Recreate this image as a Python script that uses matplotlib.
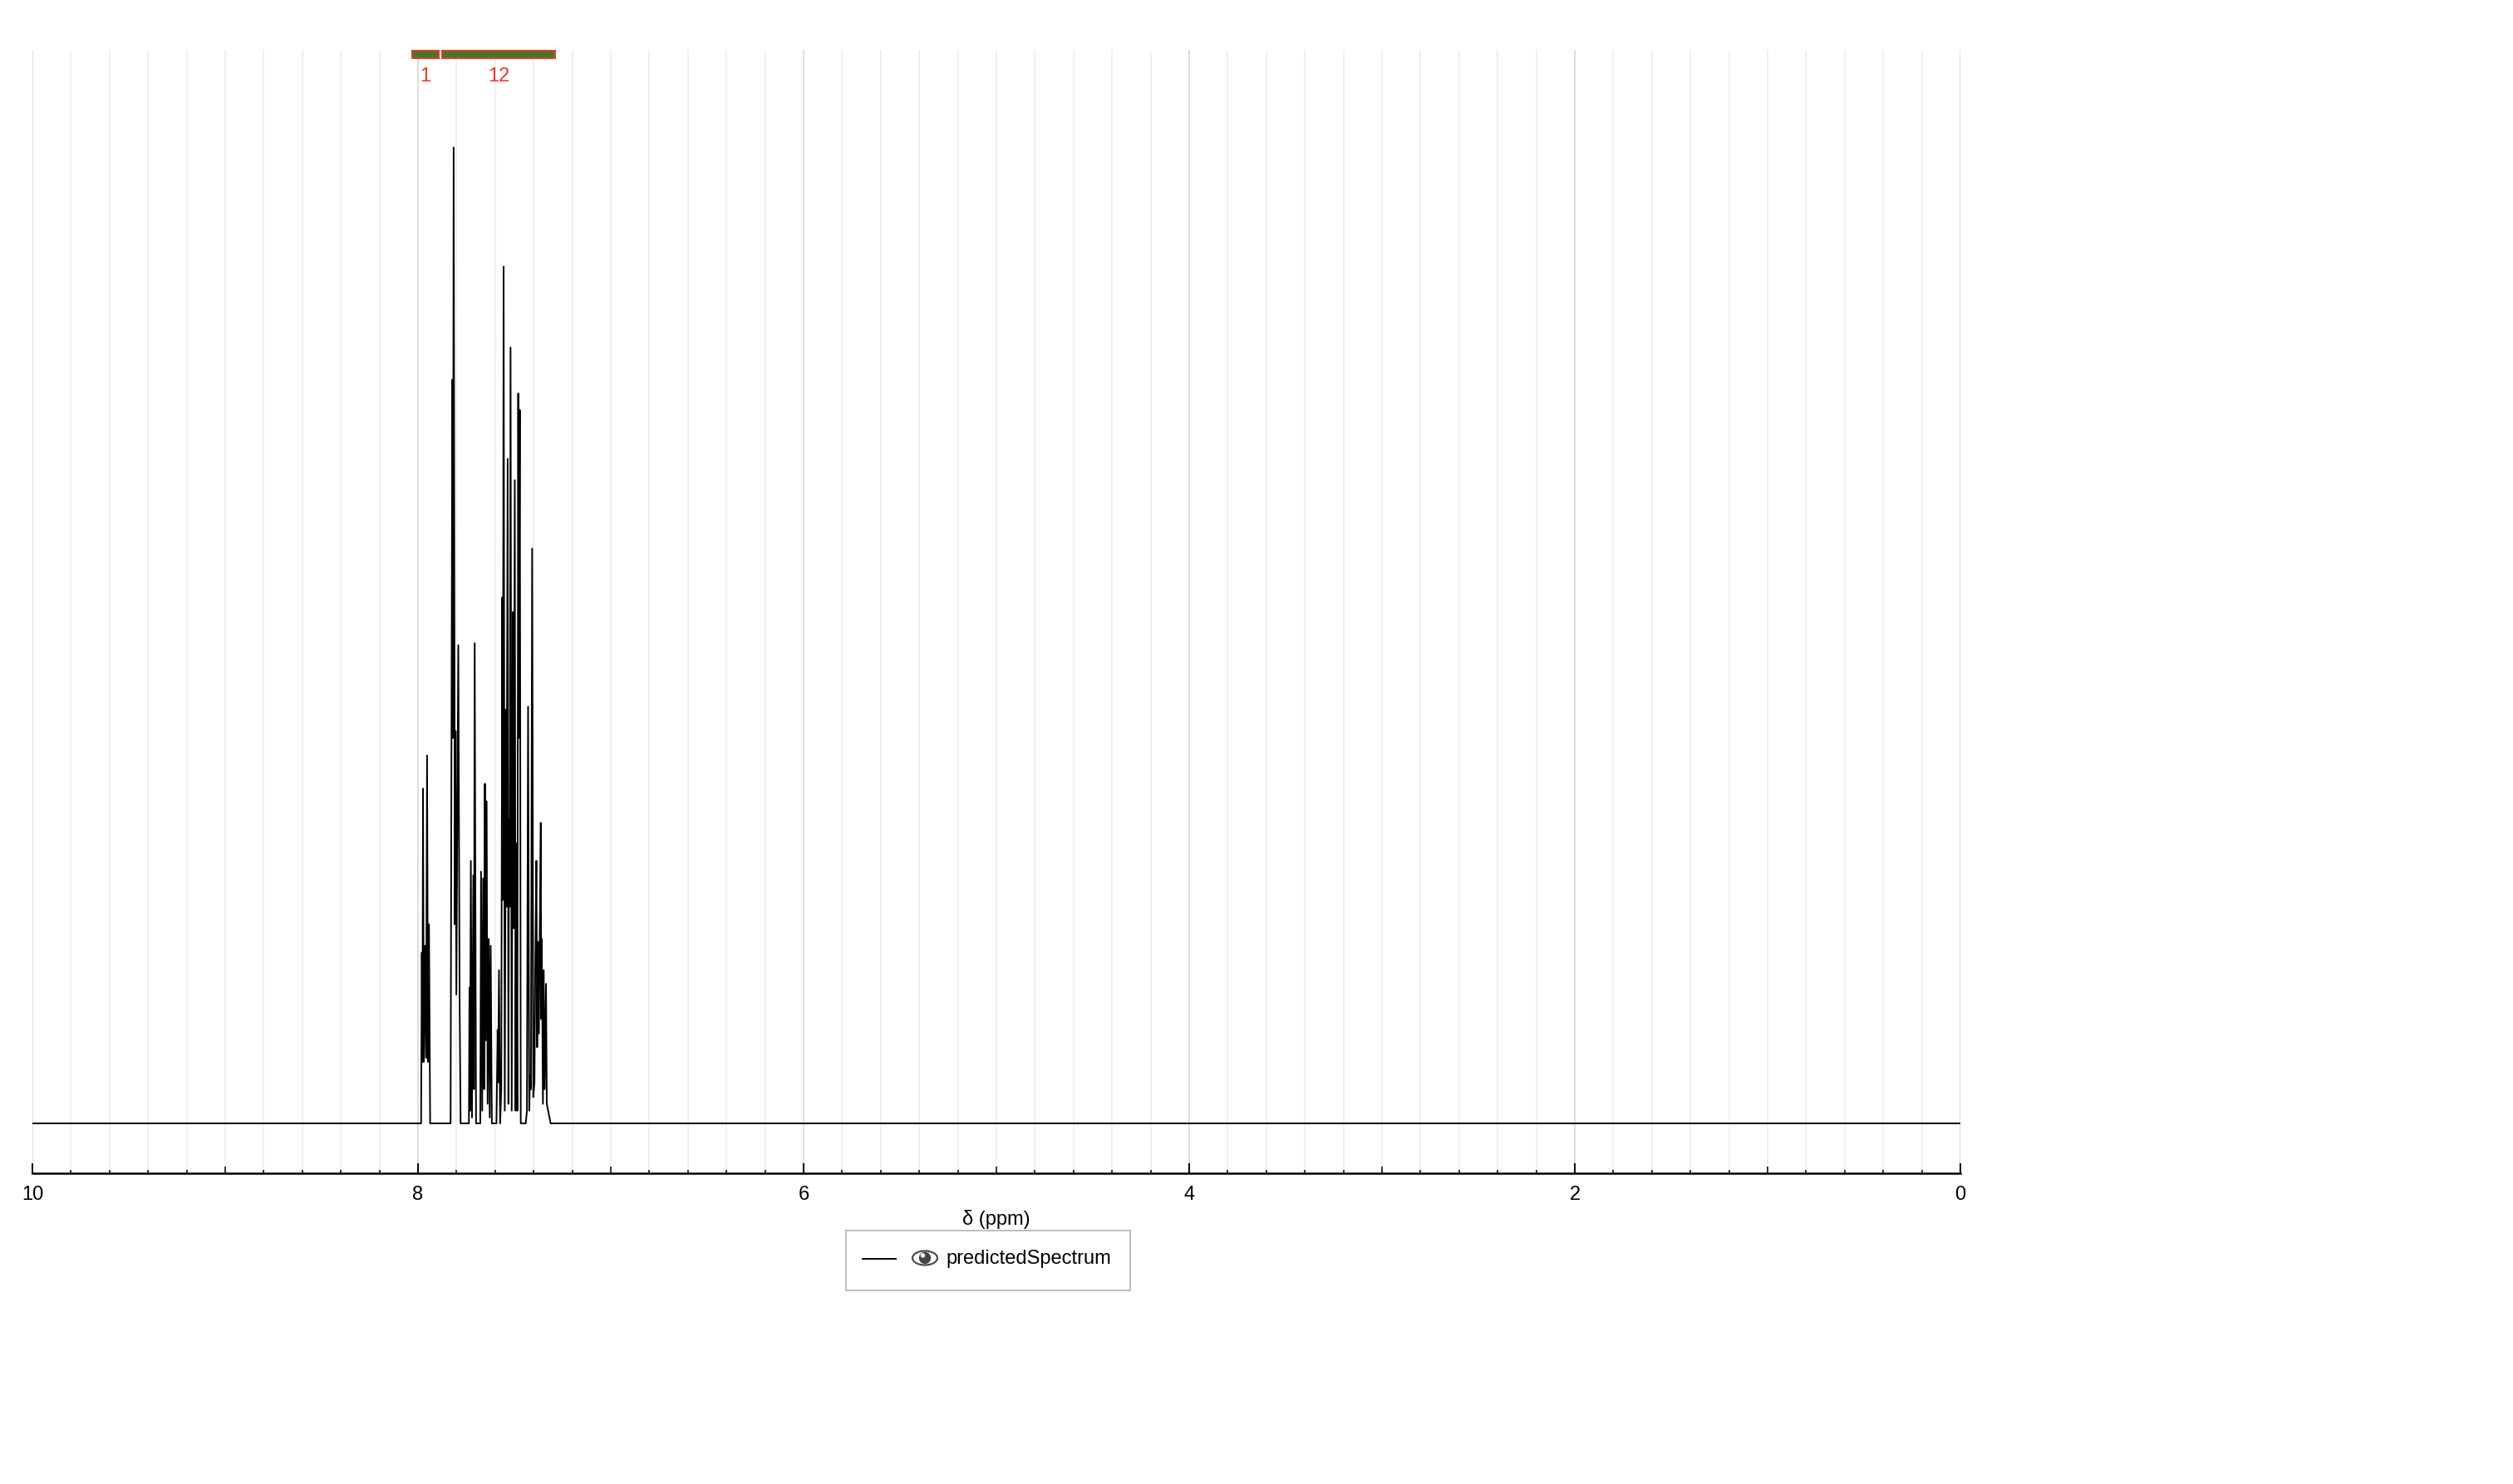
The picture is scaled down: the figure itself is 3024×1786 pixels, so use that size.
import numpy as np
import matplotlib
matplotlib.use("Agg")
import matplotlib.pyplot as plt
from matplotlib.patches import Rectangle, Ellipse, Circle
from matplotlib.lines import Line2D
from matplotlib.transforms import blended_transform_factory

plt.rcParams['font.family'] = ['Liberation Sans', 'DejaVu Sans']

# predicted 1H spectrum, vertices (ppm, relative intensity)
ppm = [10.0,
       7.984, 7.980, 7.977, 7.974, 7.970, 7.964, 7.958, 7.953, 7.948, 7.943, 7.937,
       7.831, 7.822, 7.819, 7.815, 7.809, 7.805, 7.801, 7.791, 7.784, 7.779,
       7.736, 7.733, 7.730, 7.726, 7.720, 7.713, 7.710, 7.706, 7.699,
       7.677, 7.673, 7.667, 7.662, 7.657, 7.653, 7.649, 7.644, 7.639, 7.633, 7.628, 7.623, 7.617,
       7.593, 7.587, 7.584, 7.580, 7.574, 7.568, 7.563, 7.560, 7.556, 7.550, 7.544, 7.541,
       7.535, 7.531, 7.528, 7.524, 7.520, 7.514, 7.508, 7.504, 7.498, 7.494, 7.490, 7.485,
       7.480, 7.477, 7.472, 7.467,
       7.441, 7.435, 7.429, 7.423, 7.419, 7.414, 7.408, 7.402, 7.396, 7.392, 7.386, 7.382,
       7.378, 7.373, 7.369, 7.363, 7.361, 7.358, 7.352, 7.348, 7.343, 7.336, 7.332, 7.312,
       0.0]
intensity = [0.0,
             0.0, 0.175, 0.063, 0.343, 0.063, 0.182, 0.067, 0.377, 0.063, 0.204, 0.0,
             0.0, 0.762, 0.395, 1.0, 0.204, 0.402, 0.132, 0.490, 0.121, 0.0,
             0.0, 0.139, 0.013, 0.269, 0.006, 0.254, 0.035, 0.492, 0.0,
             0.0, 0.258, 0.013, 0.251, 0.035, 0.348, 0.085, 0.330, 0.020, 0.189, 0.006, 0.182, 0.0,
             0.0, 0.096, 0.042, 0.157, 0.0, 0.035, 0.539, 0.229, 0.878, 0.013, 0.424, 0.222,
             0.681, 0.020, 0.312, 0.222, 0.795, 0.013, 0.524, 0.200, 0.659, 0.013, 0.287, 0.013,
             0.748, 0.395, 0.731, 0.0,
             0.0, 0.013, 0.427, 0.013, 0.049, 0.035, 0.589, 0.027, 0.042, 0.157, 0.269, 0.078,
             0.186, 0.092, 0.186, 0.308, 0.107, 0.189, 0.020, 0.157, 0.035, 0.143, 0.020, 0.0,
             0.0]

# integration ranges
int_from = [8.03, 7.874]
int_to = [7.892, 7.289]
int_labels = ["1", "12"]

W, H = 3024, 1786
fig = plt.figure(figsize=(W / 100, H / 100), dpi=100)
ax = fig.add_axes([39 / W, 1 - 1412 / H, 2320 / W, 1352 / H])

ax.plot(ppm, intensity, color='black', lw=1.4)
ax.set_xlim(10, 0)
ax.set_ylim(-0.0511, 1.100)

for s in ['left', 'right', 'top']:
    ax.spines[s].set_visible(False)
ax.spines['bottom'].set_linewidth(1.8)

ax.set_yticks([])
ax.set_xticks(range(0, 11, 2))
ax.set_xticks(np.arange(0, 10.01, 0.2), minor=True)
ax.tick_params(axis='x', which='major', direction='in', length=8.6, width=1.4,
               labelsize=17, pad=11)
ax.tick_params(axis='x', which='minor', direction='in', length=2.9, width=1.1)
ax.grid(True, which='major', axis='x', color='#d4d4d4', lw=1.1)
ax.grid(True, which='minor', axis='x', color='#ececec', lw=1.1)
ax.set_axisbelow(True)

# longer ticks at odd integers
locs = ax.xaxis.get_minorticklocs()
for loc, t in zip(locs, ax.xaxis.get_minor_ticks(len(locs))):
    if abs(loc - round(loc)) < 1e-6:
        t.tick1line.set_markersize(5.8)

ax.set_xlabel('δ (ppm)', fontsize=17, labelpad=5)

trans = blended_transform_factory(ax.transData, ax.transAxes)
for a, b, lbl in zip(int_from, int_to, int_labels):
    ax.add_patch(Rectangle((a, 0.9926), b - a, 0.0067, transform=trans,
                           facecolor='#3a7d22', edgecolor='#e53b2c', lw=1.5, clip_on=False))
    ax.text((a + b) / 2, 0.976, lbl, transform=trans, color='#e53b2c', fontsize=17,
            ha='center', va='center')

# legend box
lax = fig.add_axes([0, 0, 1, 1])
lax.set_xlim(0, W)
lax.set_ylim(H, 0)
lax.axis('off')
lax.add_patch(Rectangle((1018, 1481), 342, 72, fill=False, edgecolor='#b8b8b8', lw=1.3))
lax.add_line(Line2D([1038, 1078], [1515, 1515], color='black', lw=1.4))
lax.add_patch(Ellipse((1113, 1514), 30, 17, facecolor='white', edgecolor='#444444', lw=1.5))
lax.add_patch(Circle((1113, 1514), 6.5, color='#444444'))
lax.add_patch(Circle((1110.5, 1511), 2, color='white'))
lax.text(1138, 1515, 'predictedSpectrum', fontsize=17, va='center', ha='left')

fig.savefig('out.png', dpi=100)
